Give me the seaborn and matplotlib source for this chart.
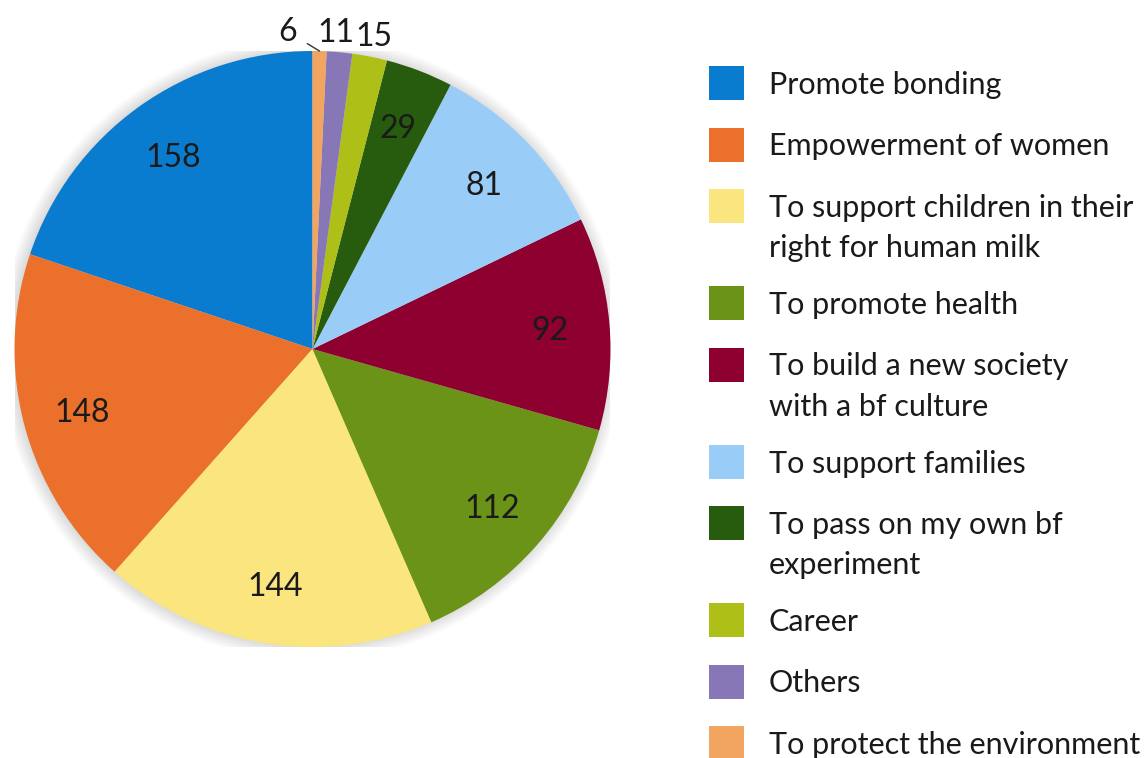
import numpy as np
import matplotlib
matplotlib.use("Agg")
import matplotlib.pyplot as plt
from matplotlib.patches import Rectangle, Circle
import seaborn as sns

# Data
categories = ["Promote bonding", "Empowerment of women",
              "To support children in their\nright for human milk",
              "To promote health",
              "To build a new society\nwith a bf culture",
              "To support families",
              "To pass on my own bf\nexperiment",
              "Career", "Others", "To protect the environment"]
counts = [158, 148, 144, 112, 92, 81, 29, 15, 11, 6]
colors = ["#0A7CD0", "#EA702B", "#FBE57E", "#6A9317", "#8E0030",
          "#9ACCF8", "#275B0D", "#AEBF17", "#8877B7", "#F2A461"]

sns.set_theme(style="white")
plt.rcParams['font.family'] = ['Lato', 'DejaVu Sans']
txt_color = "#1a1a1a"

W, H = 1148, 758
fig = plt.figure(figsize=(W / 100, H / 100), dpi=100)
fig.patch.set_facecolor("white")

# pie axes: centre (312, 349) px, radius 298 px
cx, cy, r = 312.5, 349, 298
ax = fig.add_axes([(cx - r) / W, (H - cy - r) / H, 2 * r / W, 2 * r / H])

# soft shadow behind the pie
for k in range(12):
    ax.add_patch(Circle((-0.005, 0.0), 1.0 + 0.004 * k, color="black",
                        alpha=0.012, zorder=0, lw=0))

wedges, _ = ax.pie(counts, colors=colors, startangle=90, counterclock=True,
                   wedgeprops=dict(linewidth=0))
ax.set_xlim(-1, 1)
ax.set_ylim(-1, 1)
ax.set_aspect("equal")
ax.axis("off")

# small outside labels: nudge in points so they do not collide
nudge = {15: (0, -2), 11: (-4, -2)}
for w, v in zip(wedges, counts):
    ang = np.deg2rad((w.theta1 + w.theta2) / 2)
    if v >= 20:
        ax.text(0.8 * np.cos(ang), 0.8 * np.sin(ang), str(v), ha="center",
                va="center_baseline", fontsize=23, color=txt_color)
    elif v >= 10:
        ax.annotate(str(v), xy=(1.08 * np.cos(ang), 1.075 * np.sin(ang)),
                    xytext=nudge[v], textcoords="offset points",
                    ha="center", va="center", fontsize=23, color=txt_color,
                    annotation_clip=False)
    else:
        ax.annotate(str(v), xy=(np.cos(ang), np.sin(ang)),
                    xytext=(-23, 14), textcoords="offset points",
                    ha="center", va="center", fontsize=23, color=txt_color,
                    annotation_clip=False,
                    arrowprops=dict(arrowstyle="-", color="#333333", lw=1,
                                    shrinkA=6, shrinkB=0))

# legend drawn in pixel coordinates, square aligned with the first line
lax = fig.add_axes([0, 0, 1, 1])
lax.set_xlim(0, W)
lax.set_ylim(H, 0)
lax.axis("off")
y = 83
for lab, col in zip(categories, colors):
    lax.add_patch(Rectangle((709, y - 17), 35, 34, color=col, lw=0))
    lines = lab.split("\n")
    for i, line in enumerate(lines):
        lax.text(769, y + 2 + 40 * i, line, ha="left", va="center",
                 fontsize=22, color=txt_color)
    y += 61.5 + 35.5 * (len(lines) - 1)

fig.savefig("out.png", dpi=100, facecolor="white")
